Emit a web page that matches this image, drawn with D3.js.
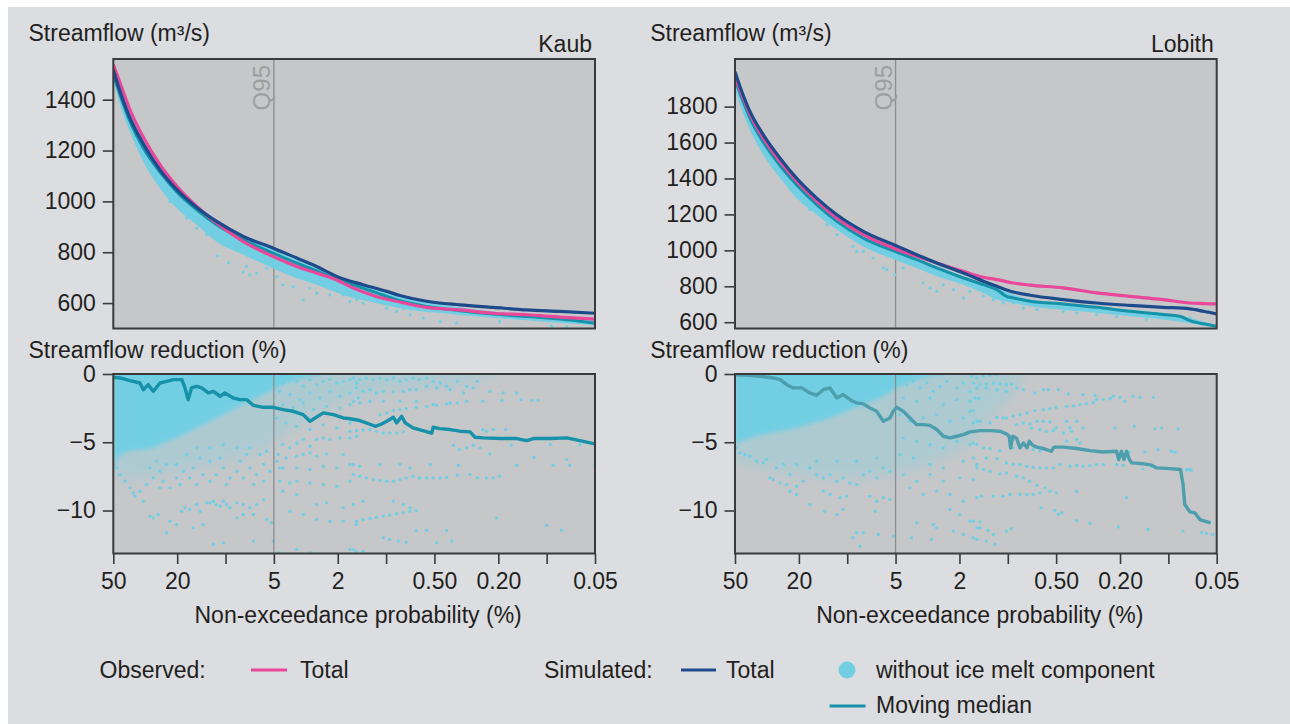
<!DOCTYPE html>
<html><head><meta charset="utf-8">
<script src="https://cdnjs.cloudflare.com/ajax/libs/d3/7.8.5/d3.min.js"></script>
<style>body{margin:0;background:#fff;}svg{display:block;}</style>
</head><body><svg id="c" width="1290" height="724"></svg>
<script>
// ---------------- DATA ----------------
const probTicks = [50, 20, 10, 5, 2, 1, 0.5, 0.2, 0.1, 0.05];
const probTickLabels = ["50", "20", "", "5", "2", "", "0.50", "0.20", "", "0.05"];
const q95Prob = 5;
const kaubFlowTicks = [600, 800, 1000, 1200, 1400];
const lobithFlowTicks = [600, 800, 1000, 1200, 1400, 1600, 1800];
const reductionTicks = [0, -5, -10];
const stations = ["Kaub", "Lobith"];

// Kaub streamflow (m3/s) vs non-exceedance probability (%)
const kaubSimTotal = [[50,1518],[45.4,1433],[39.4,1328],[32.5,1226],[25.6,1124],[20.1,1046],[15.1,976],[11.35,921],[7.75,862],[5.04,816],[3.6,777],[2.71,744],[2.03,705],[1.39,672],[0.99,646],[0.82,630],[0.56,607],[0.347,593],[0.215,583],[0.133,573],[0.083,567],[0.05,560]];
const kaubObsTotal = [[50,1538],[45.4,1466],[39.4,1361],[32.5,1252],[25.6,1144],[20.1,1059],[15.1,980],[11.35,915],[7.75,842],[5.04,783],[3.6,744],[2.71,718],[2.03,691],[1.6,659],[1.15,626],[0.82,604],[0.56,583],[0.347,573],[0.215,560],[0.133,554],[0.083,545],[0.05,537]];
const kaubNoIceMedian = [[50,1498],[45.4,1420],[39.4,1315],[32.5,1210],[25.6,1115],[20.1,1037],[15.1,967],[11.35,908],[7.75,849],[5.04,796],[3.6,757],[2.71,727],[2.03,695],[1.39,659],[0.99,626],[0.82,609],[0.56,587],[0.347,570],[0.215,557],[0.133,547],[0.083,537],[0.05,521]];
const kaubNoIceBandProb = [50,45.4,39.4,32.5,25.6,20.2,15.1,11.4,7.75,5.05,3.6,2.71,1.85,1.15,0.71,0.44,0.27,0.17,0.105,0.05];
const kaubNoIceBandHigh = [1518,1446,1348,1243,1137,1055,984,924,862,810,770,737,695,659,620,593,573,560,547,534];
const kaubNoIceBandLow = [1479,1380,1275,1157,1052,974,908,842,790,737,698,672,632,600,573,560,547,537,527,514];
const kaubNoIceFlowDots = [[11.2,786],[9.6,758],[7.4,744],[7.75,722],[7.05,711],[6.4,718],[5.55,737],[4.8,704],[4.4,672],[3.78,665],[3.28,613],[2.98,659],[2.46,672],[2.24,632],[1.85,632],[1.68,607],[1.39,600],[1.15,607],[0.99,580],[0.86,567],[0.71,554],[0.587,541],[0.46,527],[0.364,521],[0.196,527],[0.093,509],[0.075,506],[22.2,1000],[17.5,934],[15.1,895],[13.1,869],[5.3,764],[2.71,639],[1.53,613],[0.78,580]];

// Lobith streamflow
const lobithSimTotal = [[50,1994],[46.5,1911],[40.3,1772],[33.3,1643],[26.2,1513],[20.7,1402],[15.5,1291],[11.6,1198],[7.94,1106],[5.04,1028],[3.69,976],[2.77,930],[1.89,874],[1.42,828],[1.17,800],[0.924,768],[0.728,750],[0.451,726],[0.28,707],[0.174,694],[0.108,683],[0.0734,674],[0.0607,661],[0.05,646]];
const lobithObsTotal = [[50,1967],[46.5,1893],[40.3,1757],[33.3,1624],[26.2,1494],[20.7,1387],[15.5,1276],[11.6,1180],[7.94,1087],[5.04,1009],[3.69,967],[2.77,930],[1.89,883],[1.42,850],[1.17,837],[0.924,818],[0.728,806],[0.451,791],[0.28,763],[0.174,744],[0.108,726],[0.0734,707],[0.0607,704],[0.05,702]];
const lobithNoIceMedian = [[50,1948],[46.5,1874],[40.3,1735],[33.3,1602],[26.2,1472],[20.7,1365],[15.5,1254],[11.6,1161],[7.94,1068],[5.04,994],[3.69,948],[2.77,902],[1.89,846],[1.42,809],[1.17,781],[1.02,744],[0.924,735],[0.728,717],[0.451,702],[0.28,683],[0.174,661],[0.108,643],[0.085,633],[0.0734,609],[0.0607,591],[0.05,578]];
const lobithNoIceBandProb = [50,46.5,40.3,33.3,26.2,20.7,15.5,11.6,7.94,5.04,3.69,2.77,1.89,1.42,1.17,0.924,0.728,0.451,0.28,0.174,0.108,0.05];
const lobithNoIceBandHigh = [1957,1883,1744,1609,1480,1368,1257,1165,1072,994,954,911,856,813,791,754,726,707,689,670,652,583];
const lobithNoIceBandLow = [1902,1809,1670,1531,1402,1291,1198,1115,1022,948,902,856,809,763,726,707,689,670,652,633,615,568];
const lobithNoIceFlowDots = [[17.1,1226],[13.4,1143],[11.6,1087],[9.2,1022],[8.74,994],[7.94,994],[6.9,957],[5.96,902],[5.68,893],[5.04,865],[4.48,902],[3.36,818],[3.05,791],[2.77,772],[2.52,809],[2.18,781],[1.89,735],[1.72,772],[1.42,744],[1.23,726],[1.07,707],[0.924,707],[0.8,680],[0.66,670],[0.547,680],[0.451,661],[0.373,652],[0.28,642],[0.21,633],[0.137,615],[0.0734,624]];

// Streamflow reduction (%) - moving medians
const kaubReductionMedian = [[50,-0.24],[45.4,-0.29],[39.4,-0.49],[34.1,-0.66],[32.5,-1.15],[30.3,-0.78],[28.2,-1.27],[25.6,-0.66],[23.3,-0.54],[21.1,-0.41],[18.7,-0.41],[17.9,-1.02],[17.1,-1.88],[16.3,-1.02],[15.1,-0.9],[14.1,-1.02],[12.8,-1.39],[11.9,-1.27],[10.8,-1.63],[10.1,-1.39],[8.95,-1.76],[8.12,-1.88],[7.39,-1.88],[6.72,-2.29],[5.82,-2.44],[5.04,-2.44],[4.37,-2.61],[3.79,-2.73],[3.28,-2.98],[2.98,-3.46],[2.77,-3.22],[2.46,-2.85],[2.13,-2.98],[1.85,-3.22],[1.68,-3.28],[1.46,-3.41],[1.33,-3.58],[1.17,-3.83],[1.09,-3.71],[0.99,-3.46],[0.9,-3.17],[0.86,-3.58],[0.8,-3.1],[0.76,-3.58],[0.68,-3.95],[0.59,-4.15],[0.52,-4.34],[0.509,-3.9],[0.462,-4.0],[0.4,-4.07],[0.347,-4.19],[0.3,-4.24],[0.28,-4.63],[0.248,-4.68],[0.196,-4.73],[0.154,-4.73],[0.133,-4.88],[0.121,-4.73],[0.095,-4.73],[0.075,-4.68],[0.059,-4.93],[0.05,-5.12]];
const lobithReductionMedian = [[50,-0.05],[40.3,-0.1],[34.9,-0.17],[28.8,-0.29],[26.2,-0.41],[23.8,-0.78],[21.7,-1.02],[19.2,-1.02],[17.1,-1.39],[15.5,-1.56],[14.1,-1.15],[12.8,-1.02],[11.6,-1.76],[10.6,-1.51],[9.6,-1.88],[8.74,-2.12],[7.94,-2.19],[7.22,-2.49],[6.56,-2.73],[5.96,-3.46],[5.42,-3.22],[5.17,-2.73],[4.92,-2.44],[4.48,-2.73],[4.07,-3.22],[3.7,-3.71],[3.36,-3.71],[3.05,-3.76],[2.77,-4.07],[2.52,-4.56],[2.29,-4.68],[2.08,-4.56],[1.89,-4.44],[1.72,-4.24],[1.49,-4.15],[1.29,-4.15],[1.12,-4.19],[1.02,-4.39],[0.98,-4.56],[0.96,-5.41],[0.93,-4.56],[0.88,-4.73],[0.84,-5.41],[0.8,-5.05],[0.76,-5.41],[0.735,-4.93],[0.7,-5.22],[0.66,-5.36],[0.6,-5.46],[0.534,-5.66],[0.516,-5.36],[0.45,-5.36],[0.373,-5.46],[0.308,-5.61],[0.254,-5.71],[0.21,-5.66],[0.204,-6.27],[0.196,-5.66],[0.189,-6.27],[0.182,-5.66],[0.175,-6.27],[0.169,-6.51],[0.143,-6.58],[0.127,-6.68],[0.118,-6.88],[0.098,-6.93],[0.084,-7.0],[0.081,-8.1],[0.079,-9.56],[0.0734,-10.1],[0.0684,-10.17],[0.0636,-10.66],[0.0546,-10.9]];

// Streamflow reduction - dense cloud envelopes (lower edge; upper edge is 0 %)
const kaubDenseLow = [[50,-7.37],[47.7,-6.39],[43.3,-5.78],[37.5,-5.61],[32.5,-5.54],[28.2,-5.41],[24.4,-5.05],[20.2,-4.68],[16.7,-4.2],[13.8,-3.71],[11.4,-3.22],[9.4,-2.73],[7.75,-2.24],[6.4,-1.76],[5.3,-1.27],[4.4,-0.78],[3.6,-0.41],[2.98,-0.17],[2.46,0]];
const kaubSparseLow = [[50,-7.85],[39.4,-7.61],[32.5,-7.61],[25.6,-7.37],[20.2,-7.12],[15.9,-6.88],[12.5,-6.63],[9.85,-6.39],[7.75,-6.15],[6.1,-5.66],[4.8,-4.93],[3.78,-3.95],[2.98,-3.22],[2.35,-2.49],[1.85,-2.0],[1.39,-1.76],[0.9,-1.2],[0.5,-1.0],[0.3,-0.6],[0.2,0]];
const lobithDenseLow = [[50,-5.17],[42.3,-4.8],[33.3,-4.44],[26.2,-4.2],[20.7,-3.95],[16.3,-3.59],[12.8,-3.22],[10.1,-2.73],[7.94,-2.24],[6.26,-1.76],[4.92,-1.02],[3.88,-0.54],[3.05,-0.17],[2.4,0]];
const lobithSparseLow = [[50,-6.63],[33.3,-6.88],[20.7,-7.37],[12.8,-7.61],[7.94,-7.61],[4.92,-7.37],[3.05,-6.63],[1.89,-5.41],[1.49,-4.44],[1.29,-3.22],[0.925,-1.51],[0.8,0]];

// Streamflow reduction - individual points (without ice melt component)
const kaubReductionDots = [
[47.7,-6.88],[45.4,-7.37],[42.3,-7.85],[39.4,-8.34],[36.7,-8.95],[32.5,-9.32],[34.1,-8.59],[31,-8.1],[28.2,-7.61],[25.6,-7.12],[24.4,-7.85],[22.2,-8.34],[20.2,-7.61],[23.3,-6.63],[26.9,-6.39],[29.6,-6.88],[20.2,-6.63],[18.3,-7.12],[16.7,-7.61],[15.1,-8.1],[15.9,-6.88],[13.8,-7.37],[12.5,-7.85],[11.4,-7.37],[10.3,-6.88],[9.4,-7.61],[8.5,-7.12],[7.75,-7.61],[7.05,-6.88],[6.4,-7.37],[5.8,-6.63],[5.3,-7.12],[9.85,-8.1],[12.5,-6.39],[14.4,-6.15],[17.5,-5.9],[10.8,-6.15],[8.1,-6.39],[7.4,-5.9],[6.1,-5.9],[5.55,-5.66],[7.05,-5.41],[8.5,-5.41],[10.3,-5.17],[12.5,-5.41],[15.1,-5.41],[4.8,-6.39],[4.6,-6.88],[6.7,-8.1],[5.8,-7.85],[19.2,-8.1],[25.6,-8.34],[37.5,-8.71],
[29.6,-10.41],[28.2,-10.54],[26.2,-10.29],[22.2,-10.78],[20.2,-11.02],[18.8,-10.05],[17.9,-9.8],[16.7,-9.93],[15.1,-9.56],[14.4,-10.05],[13.1,-9.44],[12.5,-9.44],[11.9,-9.32],[11.4,-9.56],[10.8,-9.68],[10.3,-9.32],[9.85,-9.56],[9.4,-9.8],[8.5,-9.44],[7.75,-9.56],[7.05,-9.8],[6.4,-9.56],[5.8,-9.2],[8.5,-10.54],[7.75,-10.29],[6.7,-10.29],[5.55,-10.66],[5.17,-10.9],[13.8,-11.02],[23.3,-11.63],[15.9,-11.27],[11.9,-12.49],[10.3,-12.37],[6.7,-12.24],[5.05,-12.24],[4.7,-13.1],
[4.8,-0.29],[4.4,-0.66],[3.97,-0.29],[3.6,-0.54],[3.28,-0.9],[2.98,-0.41],[2.71,-0.78],[2.46,-0.54],[2.24,-0.41],[2.03,-0.66],[1.85,-0.54],[1.68,-0.41],[1.53,-0.66],[4.6,-1.27],[3.97,-1.51],[3.44,-1.88],[2.98,-1.39],[2.58,-1.76],[2.24,-1.27],[1.94,-1.63],[1.68,-1.39],[1.49,-1.76],[4.4,-2.24],[3.78,-2.49],[3.28,-2.12],[2.84,-2.61],[2.35,-2.37],[1.94,-2.49],[1.68,-2.24],[4.8,-3.22],[4.2,-3.59],[3.6,-3.83],[2.98,-4.07],[2.46,-3.71],[2.03,-3.95],[1.68,-3.59],
[4.4,-5.17],[3.97,-5.41],[3.6,-5.05],[3.28,-4.8],[2.98,-5.29],[2.71,-4.8],[2.46,-4.68],[2.24,-4.8],[1.94,-4.68],[1.68,-4.68],[1.53,-4.56],[4.7,-5.9],[4.2,-6.15],[3.6,-6.02],[3.28,-5.9],[2.98,-5.78],[2.71,-6.02],[2.35,-5.85],[1.85,-5.9],[4.4,-6.88],[3.6,-6.88],[2.98,-7.0],[2.46,-6.76],[2.03,-6.88],[1.68,-6.63],
[4.6,-7.85],[3.97,-7.98],[3.6,-7.85],[2.98,-7.98],[2.46,-8.1],[2.03,-8.22],[1.68,-7.85],[4.4,-8.59],[3.6,-8.83],[2.71,-9.56],[2.35,-9.44],[1.85,-9.8],[1.6,-9.56],[1.39,-9.32],[3.97,-10.05],[3.28,-10.29],[2.71,-10.66],[2.24,-10.78],[1.85,-10.78],[1.53,-11.02],[3.6,-12.85],[2.98,-13.1],[1.68,-12.85],[1.53,-13.02],
[1.6,-0.29],[1.46,-0.41],[1.33,-0.29],[1.2,-0.41],[1.09,-0.29],[0.99,-0.41],[0.9,-0.29],[0.82,-0.54],[0.75,-0.41],[0.68,-0.29],[0.62,-0.41],[0.56,-0.29],[0.51,-0.54],[0.46,-0.66],[0.42,-0.9],[0.36,-0.54],[0.315,-0.9],[0.27,-0.54],[1.53,-1.02],[1.39,-1.27],[1.26,-1.15],[1.15,-1.39],[1.04,-1.27],[0.9,-1.32],[0.78,-1.27],[0.71,-1.15],[0.65,-1.15],[0.56,-0.9],[0.485,-1.02],[0.4,-1.15],[0.33,-1.39],[0.287,-1.02],[0.226,-1.27],[0.187,-1.39],[0.154,-1.39],
[1.6,-2.0],[1.46,-2.12],[1.26,-2.0],[1.04,-2.0],[0.82,-2.0],[0.65,-2.0],[0.51,-2.24],[0.4,-2.12],[0.315,-2.0],[0.25,-2.0],[0.19,-1.95],[0.144,-1.88],[0.124,-1.93],[0.113,-1.93],
[1.09,-2.98],[0.99,-2.85],[0.9,-2.68],[0.82,-2.61],[0.75,-2.54],[0.65,-2.44],[0.56,-2.37],[0.485,-2.29],[0.42,-2.2],[0.36,-2.12],[1.68,-4.2],[1.53,-4.15],[1.39,-4.1],[1.26,-4.07],[1.15,-4.2],[1.04,-4.32],[0.95,-4.32],[0.86,-4.32],[0.78,-4.24],[0.25,-4.07],[0.215,-4.07],[0.18,-4.07],[0.237,-4.2],
[0.38,-5.22],[0.35,-5.54],[0.315,-5.41],[0.287,-5.22],[0.26,-5.41],[0.226,-5.85],[0.166,-5.22],[0.12,-6.1],[0.095,-5.17],[0.075,-6.27],[0.062,-5.17],[1.6,-6.63],[1.46,-6.76],[1.09,-6.63],[0.82,-6.63],[0.71,-6.88],[0.53,-6.63],[0.355,-6.68],[0.154,-6.68],[0.091,-6.68],[0.072,-6.68],[0.05,-6.68],
[1.6,-7.37],[1.46,-7.49],[1.33,-7.61],[1.2,-7.73],[1.09,-7.8],[0.99,-7.85],[0.9,-7.85],[0.82,-7.73],[0.75,-7.61],[0.68,-7.49],[0.62,-7.61],[0.56,-7.61],[0.51,-7.61],[0.46,-7.61],[0.42,-7.56],[0.36,-7.41],[0.3,-7.37],[0.27,-7.61],[0.237,-7.61],[0.215,-7.61],[0.196,-7.49],
[0.9,-9.32],[0.78,-9.56],[0.71,-9.8],[0.65,-10.0],[1.53,-10.78],[1.39,-10.66],[1.26,-10.59],[1.15,-10.49],[1.04,-10.41],[0.95,-10.34],[0.86,-10.24],[0.78,-10.17],[0.71,-10.05],[0.205,-10.54],[0.1,-11.1],[0.081,-11.44],[1.04,-12.0],[0.95,-12.12],[0.84,-12.24],[0.75,-12.32],[0.65,-11.46],[0.56,-11.44],[0.485,-12.37],[0.42,-11.46],[0.39,-12.24],[1.6,-12.85],[1.39,-12.98]
];
const lobithReductionDots = [
[48.8,-5.41],[46.5,-5.78],[43.3,-5.9],[40.3,-6.02],[36.7,-6.39],[33.3,-6.51],[31.8,-6.27],[30.3,-7.61],[28.9,-7.73],[26.2,-7.98],[23.8,-8.1],[22.7,-8.59],[20.7,-8.83],[20.7,-8.22],[18.8,-7.85],[17.1,-6.88],[15.5,-7.37],[14.1,-7.61],[12.8,-7.37],[11.6,-7.85],[10.6,-7.61],[9.6,-7.98],[8.74,-8.1],[7.94,-7.37],[7.22,-7.12],[6.56,-7.61],[5.96,-6.88],[5.42,-7.12],[12.8,-8.83],[14.1,-8.59],[11.1,-9.07],[10.1,-8.95],[7.22,-8.95],[6.56,-9.32],[5.96,-9.07],[5.42,-9.2],[17.1,-9.56],[13.8,-10.05],[11.6,-10.29],[10.6,-9.93],[6.7,-10.05],[8.74,-11.63],[7.94,-11.63],[9.2,-12.0],[8.34,-12.61],[6.4,-11.76],[5.17,-11.88],[20.7,-6.63],[25,-6.63],[27.5,-6.88],[22.7,-7.37],[15.5,-6.39],[11.6,-6.39],[8.74,-6.39],[6.56,-6.15],
[4.7,-0.29],[4.27,-0.78],[3.88,-0.54],[3.53,-1.02],[3.2,-0.66],[2.91,-1.27],[2.64,-0.9],[2.4,-0.54],[2.08,-1.02],[1.89,-0.66],[1.72,-1.27],[1.56,-1.02],[4.48,-1.76],[3.7,-2.0],[3.05,-1.76],[2.52,-2.24],[2.08,-1.88],[1.72,-2.0],[4.7,-2.98],[4.07,-3.46],[3.36,-3.22],[2.77,-2.98],[2.29,-3.46],[1.89,-3.22],[1.56,-3.46],
[4.48,-4.68],[3.7,-4.93],[3.05,-5.17],[2.52,-5.41],[2.08,-4.93],[1.72,-5.17],[4.7,-5.9],[3.88,-6.15],[3.05,-6.63],[2.52,-6.88],[1.89,-6.39],[1.56,-6.63],[4.48,-7.37],[3.7,-7.85],[3.05,-7.37],[2.52,-7.85],[1.99,-7.61],[1.64,-7.73],[4.07,-8.34],[3.36,-8.83],[2.77,-8.59],[2.29,-8.83],[1.89,-9.32],[1.56,-9.07],[2.29,-9.93],[1.99,-10.29],[1.72,-10.78],[1.56,-11.27],[3.7,-10.9],[2.91,-11.02],[2.77,-11.27],[2.18,-11.51],[1.89,-11.76],[1.64,-12.0],[3.97,-12.0],[2.98,-12.12],
[1.68,-0.17],[1.56,-0.29],[1.42,-0.17],[1.29,-0.1],[1.17,-0.05],[1.64,-0.66],[1.49,-0.78],[1.36,-0.73],[1.23,-0.66],[1.12,-0.71],[1.02,-0.78],[0.95,-0.73],[1.56,-1.02],[1.36,-1.02],[1.17,-1.15],[1.02,-1.27],[0.88,-1.02],[0.8,-1.15],[1.6,-1.76],[1.52,-1.8],
[0.68,-1.39],[0.6,-1.15],[0.56,-1.15],[0.485,-1.15],[0.42,-1.46],[0.34,-1.51],[0.287,-1.56],[0.28,-1.88],[0.254,-1.88],[0.231,-1.8],[0.22,-1.63],[0.2,-1.71],[0.187,-2.0],[0.166,-1.63],[0.15,-1.71],[0.124,-1.71],
[1.02,-3.22],[0.925,-3.1],[0.84,-2.98],[0.76,-2.85],[0.68,-2.68],[0.6,-2.61],[0.547,-2.54],[0.5,-2.44],[0.43,-2.37],[0.39,-2.34],[0.355,-2.24],[0.324,-2.17],[0.294,-2.1],[1.72,-2.73],[1.64,-2.68],
[1.64,-3.59],[1.49,-3.46],[1.29,-3.59],[1.17,-3.17],[1.07,-3.22],[0.88,-3.71],[0.8,-3.59],[0.73,-3.66],[0.71,-3.95],[0.66,-3.46],[0.6,-3.46],[0.547,-3.51],[0.63,-4.07],[0.574,-4.2],[0.52,-4.15],[0.5,-3.95],[0.45,-4.32],[0.43,-3.46],[0.41,-3.95],[0.4,-4.2],[0.373,-3.46],[0.34,-3.95],[0.43,-4.93],[0.373,-4.8],[0.355,-5.05],[0.215,-3.95],[0.163,-3.83],[0.121,-4.02],[0.11,-3.95],[0.087,-4.02],
[1.64,-5.05],[1.56,-5.17],[1.42,-5.41],[1.29,-5.46],[1.12,-5.61],[0.925,-5.41],[0.84,-5.37],[0.695,-5.54],[0.63,-5.66],
[1.64,-6.15],[1.36,-6.15],[1.17,-6.2],[1.02,-6.51],[0.925,-6.63],[0.84,-6.63],[0.76,-6.76],[0.695,-6.83],[0.63,-6.88],[0.574,-6.88],[0.52,-6.88],[0.475,-6.63],[0.41,-6.76],[0.373,-6.68],[0.34,-6.76],[0.308,-6.71],[0.28,-6.63],[0.254,-6.63],[0.21,-6.63],[0.191,-6.68],[0.144,-6.95],[0.127,-6.78],[0.077,-7.02],[0.072,-7.05],
[1.56,-6.88],[1.42,-7.0],[1.29,-7.12],[1.12,-7.32],[1.02,-7.24],[0.88,-7.49],[0.8,-7.61],[0.73,-7.85],[0.66,-8.15],[0.587,-8.34],[0.547,-8.59],[0.5,-8.71],[0.84,-8.83],[0.76,-8.83],[0.695,-8.83],[0.63,-8.71],[1.07,-8.95],[0.97,-8.83],[1.46,-8.95],[1.23,-8.95],[0.373,-8.59],
[0.62,-9.8],[0.51,-10.0],[0.485,-10.29],[0.46,-10.17],[0.373,-10.73],[0.308,-10.93],[0.205,-11.2],[0.134,-11.37],[1.64,-10.78],[1.49,-10.83],[1.49,-11.27],[1.33,-11.46],[1.23,-11.76],[1.36,-12.24],[1.2,-12.49],[1.02,-11.51],[0.95,-11.34],[1.56,-12.12],[0.081,-11.51],[0.062,-11.61],[0.058,-11.68],[0.053,-11.76],[0.182,-9.07],[0.175,-5.71],[0.14,-5.71],[0.116,-5.54],[0.096,-5.66],[0.091,-5.73],[0.074,-7.0]
];

// Legend labels
const legendGroupLabels = ["Observed:", "Simulated:"];
const legendItemLabels = ["Total", "Total", "without ice melt component", "Moving median"];

// ---------------- STYLE ----------------
const C = {
  page: "#dcdde0", plot: "#c6c7c9", frame: "#3a3a3a", text: "#231f20",
  obs: "#e8479a", sim: "#1c4a8b", dot: "#72cfe3", median: "#1592a9",
  medianLob: "#4e9fae", q95: "#8c8d8f", q95txt: "#9d9ea0"
};
const FONT = "'Liberation Sans', Arial, Helvetica, sans-serif";
const FS = 23;

const svg = d3.select("#c").attr("font-family", FONT);
const defs = svg.append("defs");
defs.append("filter").attr("id", "haze").attr("x", "-20%").attr("y", "-20%").attr("width", "140%").attr("height", "140%")
  .append("feGaussianBlur").attr("stdDeviation", 7);
defs.append("filter").attr("id", "soft").attr("x", "-10%").attr("y", "-10%").attr("width", "120%").attr("height", "120%")
  .append("feGaussianBlur").attr("stdDeviation", 2.2);

svg.append("rect").attr("x", 8).attr("y", 7).attr("width", 1282).attr("height", 717).attr("fill", C.page);

const cols = [{ x0: 113.3, x1: 595 }, { x0: 735, x1: 1216.7 }];
const topRange = [328.5, 59], botRange = [553.5, 374];

const panelsTop = [
  { name: stations[0], dom: [500, 1560], ticks: kaubFlowTicks, sim: kaubSimTotal, obs: kaubObsTotal, med: kaubNoIceMedian,
    bandP: kaubNoIceBandProb, bandH: kaubNoIceBandHigh, bandL: kaubNoIceBandLow, dots: kaubNoIceFlowDots },
  { name: stations[1], dom: [565, 2065], ticks: lobithFlowTicks, sim: lobithSimTotal, obs: lobithObsTotal, med: lobithNoIceMedian,
    bandP: lobithNoIceBandProb, bandH: lobithNoIceBandHigh, bandL: lobithNoIceBandLow, dots: lobithNoIceFlowDots }
];
const panelsBot = [
  { med: kaubReductionMedian, dense: kaubDenseLow, sparse: kaubSparseLow, dots: kaubReductionDots, medColor: C.median },
  { med: lobithReductionMedian, dense: lobithDenseLow, sparse: lobithSparseLow, dots: lobithReductionDots, medColor: C.medianLob }
];

function styleAxis(a) {
  a.attr("font-family", FONT).attr("font-size", FS);
  a.select(".domain").remove();
  a.selectAll(".tick line").attr("stroke", C.frame).attr("stroke-width", 1.6);
  a.selectAll(".tick text").attr("fill", C.text);
}

cols.forEach((c, i) => {
  const x = d3.scaleLog().domain([50, 0.05]).range([c.x0, c.x1]);
  const w = c.x1 - c.x0;

  // ---------- top panel ----------
  const T = panelsTop[i];
  const yT = d3.scaleLinear().domain(T.dom).range(topRange);
  const gT = svg.append("g");
  gT.append("rect").attr("x", c.x0).attr("y", topRange[1]).attr("width", w).attr("height", topRange[0] - topRange[1]).attr("fill", C.plot);
  svg.append("clipPath").attr("id", "ct" + i).append("rect").attr("x", c.x0).attr("y", topRange[1]).attr("width", w).attr("height", topRange[0] - topRange[1]);
  const pT = gT.append("g").attr("clip-path", `url(#ct${i})`);

  pT.append("line").attr("x1", x(q95Prob)).attr("x2", x(q95Prob)).attr("y1", topRange[1]).attr("y2", topRange[0])
    .attr("stroke", C.q95).attr("stroke-width", 1.3);

  const band = T.bandP.map((p, k) => ({ p, h: T.bandH[k], l: T.bandL[k] }));
  pT.append("path").datum(band).attr("fill", C.dot)
    .attr("d", d3.area().x(d => x(d.p)).y0(d => yT(d.l)).y1(d => yT(d.h)).curve(d3.curveMonotoneX));
  pT.selectAll("circle.d").data(T.dots).join("circle").attr("cx", d => x(d[0])).attr("cy", d => yT(d[1])).attr("r", 1.6).attr("fill", C.dot);

  const line = d3.line().x(d => x(d[0])).y(d => yT(d[1])).curve(d3.curveMonotoneX);
  pT.append("path").datum(T.med).attr("d", line).attr("fill", "none").attr("stroke", C.median).attr("stroke-width", 3);
  pT.append("path").datum(T.obs).attr("d", line).attr("fill", "none").attr("stroke", C.obs).attr("stroke-width", 3.2);
  pT.append("path").datum(T.sim).attr("d", line).attr("fill", "none").attr("stroke", C.sim).attr("stroke-width", 3.2);

  gT.append("text").attr("transform", `translate(${x(q95Prob) - 4},65) rotate(-90)`).attr("text-anchor", "end")
    .attr("font-size", 24).attr("fill", C.q95txt).text("Q95");

  gT.append("rect").attr("x", c.x0).attr("y", topRange[1]).attr("width", w).attr("height", topRange[0] - topRange[1])
    .attr("fill", "none").attr("stroke", C.frame).attr("stroke-width", 2);
  const ayT = gT.append("g").attr("transform", `translate(${c.x0},0)`)
    .call(d3.axisLeft(yT).tickValues(T.ticks).tickSize(10.5).tickPadding(7).tickFormat(d3.format("d")));
  styleAxis(ayT);

  gT.append("text").attr("x", c.x0 - 84.8).attr("y", 41).attr("font-size", FS).attr("fill", C.text).text("Streamflow (m³/s)");
  gT.append("text").attr("x", c.x1 - 3).attr("y", 52).attr("text-anchor", "end").attr("font-size", FS).attr("fill", C.text).text(T.name);

  // ---------- bottom panel ----------
  const B = panelsBot[i];
  const yB = d3.scaleLinear().domain([-13.15, 0]).range(botRange);
  const gB = svg.append("g");
  gB.append("rect").attr("x", c.x0).attr("y", botRange[1]).attr("width", w).attr("height", botRange[0] - botRange[1]).attr("fill", C.plot);
  svg.append("clipPath").attr("id", "cb" + i).append("rect").attr("x", c.x0).attr("y", botRange[1]).attr("width", w).attr("height", botRange[0] - botRange[1]);
  const pB = gB.append("g").attr("clip-path", `url(#cb${i})`);

  const cloud = d3.area().x(d => x(d[0])).y0(d => yB(d[1])).y1(yB(0) - 20).curve(d3.curveMonotoneX);
  pB.append("path").datum(B.sparse).attr("d", cloud).attr("fill", C.dot).attr("fill-opacity", 0.3).attr("filter", "url(#haze)");
  pB.append("path").datum(B.dense).attr("d", cloud).attr("fill", C.dot).attr("filter", "url(#soft)");
  pB.selectAll("circle.d").data(B.dots).join("circle").attr("cx", d => x(d[0])).attr("cy", d => yB(d[1])).attr("r", 1.7).attr("fill", C.dot);

  pB.append("line").attr("x1", x(q95Prob)).attr("x2", x(q95Prob)).attr("y1", botRange[1]).attr("y2", botRange[0])
    .attr("stroke", C.q95).attr("stroke-width", 1.3);
  pB.append("path").datum(B.med).attr("fill", "none").attr("stroke", B.medColor).attr("stroke-width", 3.4).attr("stroke-linejoin", "round")
    .attr("d", d3.line().x(d => x(d[0])).y(d => yB(d[1])));

  gB.append("rect").attr("x", c.x0).attr("y", botRange[1]).attr("width", w).attr("height", botRange[0] - botRange[1])
    .attr("fill", "none").attr("stroke", C.frame).attr("stroke-width", 2);
  const ayB = gB.append("g").attr("transform", `translate(${c.x0},0)`)
    .call(d3.axisLeft(yB).tickValues(reductionTicks).tickSize(10.5).tickPadding(7).tickFormat(d3.format("d")));
  styleAxis(ayB);
  const axB = gB.append("g").attr("transform", `translate(0,${botRange[0]})`)
    .call(d3.axisBottom(x).tickValues(probTicks).tickSize(10.5).tickPadding(9).tickFormat((d, k) => probTickLabels[k]));
  styleAxis(axB);

  gB.append("text").attr("x", c.x0 - 84.8).attr("y", 358).attr("font-size", FS).attr("fill", C.text).text("Streamflow reduction (%)");
  gB.append("text").attr("x", (c.x0 + c.x1) / 2 + 4).attr("y", 623).attr("text-anchor", "middle").attr("font-size", FS).attr("fill", C.text)
    .text("Non-exceedance probability (%)");
});

// ---------------- LEGEND ----------------
const lg = svg.append("g").attr("font-size", FS).attr("fill", C.text);
lg.append("text").attr("x", 99.6).attr("y", 678).text(legendGroupLabels[0]);
lg.append("line").attr("x1", 251).attr("x2", 287).attr("y1", 670).attr("y2", 670).attr("stroke", C.obs).attr("stroke-width", 3.2);
lg.append("text").attr("x", 300).attr("y", 678).text(legendItemLabels[0]);
lg.append("text").attr("x", 544).attr("y", 678).text(legendGroupLabels[1]);
lg.append("line").attr("x1", 681).attr("x2", 716).attr("y1", 670).attr("y2", 670).attr("stroke", C.sim).attr("stroke-width", 3.2);
lg.append("text").attr("x", 726).attr("y", 678).text(legendItemLabels[1]);
lg.append("circle").attr("cx", 847).attr("cy", 670).attr("r", 8.5).attr("fill", C.dot);
lg.append("text").attr("x", 876).attr("y", 678).text(legendItemLabels[2]);
lg.append("line").attr("x1", 829.5).attr("x2", 865.5).attr("y1", 706).attr("y2", 706).attr("stroke", C.median).attr("stroke-width", 3.2);
lg.append("text").attr("x", 876).attr("y", 713).text(legendItemLabels[3]);
</script></body></html>
